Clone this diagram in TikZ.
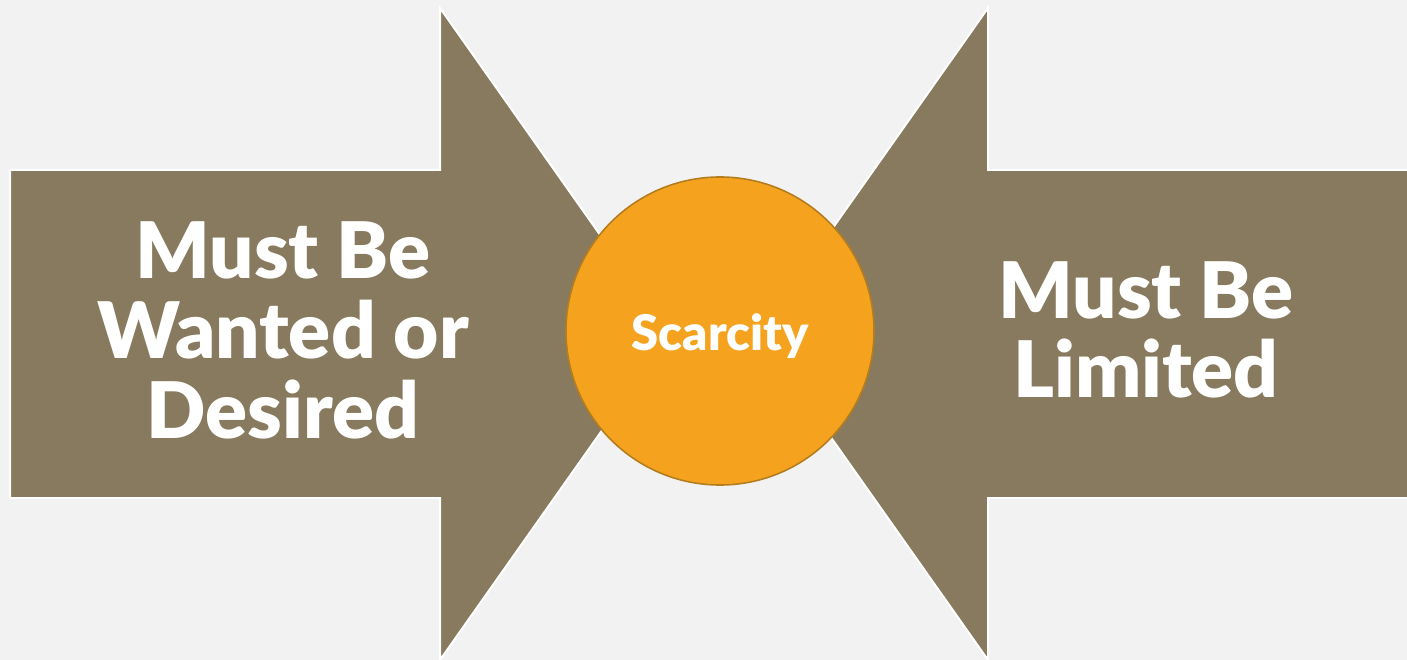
\documentclass[tikz,border=0pt]{standalone}
\usepackage{fontspec}
\setmainfont{Lato}[BoldFont={Lato Black}]
\definecolor{bgcol}{HTML}{F2F2F2}
\definecolor{arrowcol}{HTML}{877A5E}
\definecolor{discfill}{HTML}{F5A31F}
\definecolor{discedge}{HTML}{B57D1E}
\tikzset{
  bigarrow/.style={fill=arrowcol, draw=white, line width=2pt},
  bigtext/.style={text=white, font=\fontsize{78}{80}\selectfont\bfseries, anchor=base, inner sep=0pt},
  disc/.style={circle, fill=discfill, draw=discedge, line width=1.6pt, minimum size=308pt, inner sep=0pt},
  disctext/.style={text=white, font=\fontsize{49}{52}\selectfont\bfseries, anchor=base, inner sep=0pt}
}
\begin{document}
\begin{tikzpicture}[x=1pt,y=-1pt]
  % canvas
  \fill[bgcol] (0,0) rectangle (1407,660);
  \useasboundingbox (0,0) rectangle (1407,660);
  % left arrow pointing right
  \draw[bigarrow] (10,170) -- (440,170) -- (440,8) -- (670,334) -- (440,660)
    -- (440,498) -- (10,498) -- cycle;
  % right arrow pointing left
  \draw[bigarrow] (1412,170) -- (988,170) -- (988,8) -- (758,334) -- (988,660)
    -- (988,498) -- (1412,498);
  % centre disc
  \node[disc] (scarcity) at (720,331) {};
  \node[disctext] (scarcitylabel) at (720,350) {Scarcity};
  % left arrow text
  \node[bigtext] (lefta) at (283,278) {Must Be};
  \node[bigtext] (leftb) at (283,358) {Wanted or};
  \node[bigtext] (leftc) at (283,438) {Desired};
  % right arrow text
  \node[bigtext] (righta) at (1146,318) {Must Be};
  \node[bigtext] (rightb) at (1146,397) {Limited};
\end{tikzpicture}
\end{document}
